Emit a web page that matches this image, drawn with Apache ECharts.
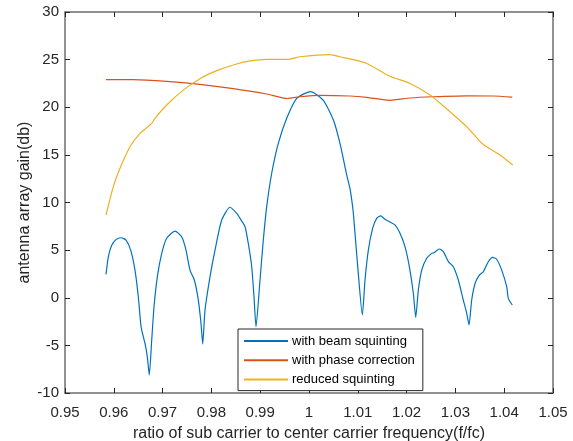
<!DOCTYPE html>
<html>
<head>
<meta charset="utf-8">
<script src="https://cdn.jsdelivr.net/npm/echarts@6/dist/echarts.min.js"></script>
<style>html,body{margin:0;padding:0;background:#fff;}#c{width:573px;height:441px;}</style>
</head>
<body>
<div id="c"></div>
<script>
// Data: [f/fc, gain dB]
var beamSquintX = [0.9584,0.95888,0.95957,0.96045,0.96148,0.9625,0.96346,0.96434,0.96502,0.96551,0.96572,0.96639,0.96687,0.96727,
  0.96777,0.96824,0.96892,0.96982,0.97084,0.97254,0.97391,0.9748,0.97561,0.9765,0.97732,0.97787,0.97822,
  0.97869,0.97971,0.98074,0.98211,0.98381,0.98518,0.98586,0.98689,0.98756,0.98826,0.98873,0.98914,
  0.98996,0.99064,0.99133,0.99236,0.99371,0.99543,0.99748,1.0003,1.0029,1.0050,1.00635,1.00773,1.00838,1.00875,1.00908,1.00943,1.0101,1.01093,
  1.01148,1.01216,1.01305,1.01387,1.0147,1.01557,1.01674,1.01762,1.01865,1.01967,1.02056,1.02138,1.02187,
  1.02241,1.0231,1.02412,1.02515,1.02562,1.02671,1.02753,1.02855,1.02957,1.0306,1.03162,1.03232,1.03279,
  1.03334,1.03402,1.0349,1.03572,1.03674,1.03764,1.03846,1.03949,1.04051,1.04084,1.04166];
var beamSquintY = [2.45,4.3,5.5,6.1,6.3,6.06,5.0,2.9,0.1,-2.7,-3.4,-4.8,-6.2,-8.1,
  -4.45,-0.95,2.2,4.65,6.24,7.0,6.4,5.0,2.9,1.86,-0.24,-2.7,-4.85,
  -1.3,2.2,5.0,8.16,9.5,8.86,8.34,7.46,5.7,3.26,0.1,-3.05,
  1.86,6.06,9.56,13.07,16.2,18.84,20.94,21.65,20.76,18.66,16.2,12.9,11.5,10.3,8.9,6.76,2.56,-1.8,
  1.86,5.0,7.3,8.34,8.6,8.24,7.92,7.64,6.77,5.36,3.26,0.47,-2.05,
  0.81,2.9,4.14,4.66,4.73,5.12,4.84,3.8,3.26,1.86,-0.24,-1.63,-2.86,
  -0.24,1.5,2.38,2.73,3.78,4.24,4.04,2.9,1.16,-0.06,-0.76];

var phaseCorrX = [0.9584,0.964,0.97084,0.97766,0.98449,0.99133,0.99556,0.99816,1.00225,1.0084,1.01182,1.0166,1.0207,1.02548,1.03232,1.03777,1.04166];
var phaseCorrY = [22.9,22.9,22.72,22.4,21.95,21.39,20.92,21.1,21.25,21.18,21.04,20.73,20.97,21.1,21.2,21.18,21.07];

var reducedX = [0.9584,0.9599,0.96127,0.96332,0.96537,0.96777,0.96844,0.97084,0.97424,0.97766,0.98109,0.98449,0.98791,0.99133,0.99576,0.99816,1.0043,1.00635,1.01182,1.01645,1.0207,1.0248,1.02889,1.03232,1.03559,1.03914,1.04174];
var reducedY = [8.67,11.66,13.6,15.86,17.26,18.3,18.84,20.24,21.8,23.0,23.84,24.44,24.86,25.03,25.03,25.3,25.52,25.3,24.6,23.28,22.5,21.28,19.53,17.96,16.14,14.98,13.93];

var seriesNames = ['with beam squinting','with phase correction','reduced squinting'];
var xTicks = {min:0.95, max:1.05, step:0.01};
var yTicks = {min:-10, max:30, step:5};

function pairs(xs, ys){ var o=[]; for (var i=0;i<xs.length;i++) o.push([xs[i], ys[i]]); return o; }

var FONT = '"Liberation Sans", Arial, sans-serif';
var AX = '#262626';
var BOX = '#6e6e6e';

var chart = echarts.init(document.getElementById('c'), null, {renderer:'canvas'});
var option = {
  animation:false,
  backgroundColor:'#ffffff',
  grid:{left:65, right:20, top:12, bottom:48, containLabel:false, outerBoundsMode:'none'},
  xAxis:[{
    type:'value', min:xTicks.min, max:xTicks.max, interval:xTicks.step, position:'bottom',
    name:'ratio of sub carrier to center carrier frequency(f/fc)', nameLocation:'middle', nameGap:33,
    nameMoveOverlap:false,
    nameTextStyle:{fontFamily:FONT, fontSize:16, color:AX},
    axisLine:{show:true, onZero:false, lineStyle:{color:BOX, width:1.5}},
    axisTick:{show:true, inside:true, length:5, lineStyle:{color:AX}},
    axisLabel:{fontFamily:FONT, fontSize:15, color:AX, margin:12,
      formatter:function(v){ return (Math.round(v*100)/100).toString(); }},
    splitLine:{show:false}
  },{
    type:'value', min:xTicks.min, max:xTicks.max, interval:xTicks.step, position:'top',
    axisLine:{show:true, onZero:false, lineStyle:{color:BOX, width:1.5}},
    axisTick:{show:true, inside:true, length:5, lineStyle:{color:AX}},
    axisLabel:{show:false}, splitLine:{show:false}
  }],
  yAxis:[{
    type:'value', min:yTicks.min, max:yTicks.max, interval:yTicks.step, position:'left',
    name:'antenna array gain(db)', nameLocation:'middle', nameGap:32,
    nameMoveOverlap:false,
    nameTextStyle:{fontFamily:FONT, fontSize:16, color:AX},
    axisLine:{show:true, onZero:false, lineStyle:{color:BOX, width:1.5}},
    axisTick:{show:true, inside:true, length:5, lineStyle:{color:AX}},
    axisLabel:{fontFamily:FONT, fontSize:15, color:AX, margin:6},
    splitLine:{show:false}
  },{
    type:'value', min:yTicks.min, max:yTicks.max, interval:yTicks.step, position:'right',
    axisLine:{show:true, onZero:false, lineStyle:{color:BOX, width:1.5}},
    axisTick:{show:true, inside:true, length:5, lineStyle:{color:AX}},
    axisLabel:{show:false}, splitLine:{show:false}
  }],
  legend:{
    orient:'vertical', left:238, top:329, width:187,
    padding:[5,8,4,6], itemGap:5.3, itemWidth:44, itemHeight:2, icon:'rect',
    backgroundColor:'#ffffff', borderColor:'#262626', borderWidth:1, borderRadius:0,
    textStyle:{fontFamily:FONT, fontSize:13, color:'#000', padding:[0,0,0,-1], lineHeight:14},
    data:seriesNames
  },
  series:[
    {name:seriesNames[0], type:'line', data:pairs(beamSquintX, beamSquintY), showSymbol:false, symbol:'none',
     smooth:0.2, lineStyle:{color:'#0072BD', width:1.2}, itemStyle:{color:'#0072BD'}},
    {name:seriesNames[1], type:'line', data:pairs(phaseCorrX, phaseCorrY), showSymbol:false, symbol:'none',
     smooth:0.2, lineStyle:{color:'#D95319', width:1.2}, itemStyle:{color:'#D95319'}},
    {name:seriesNames[2], type:'line', data:pairs(reducedX, reducedY), showSymbol:false, symbol:'none',
     smooth:0.2, lineStyle:{color:'#EDB120', width:1.2}, itemStyle:{color:'#EDB120'}}
  ]
};
chart.setOption(option);
</script>
</body>
</html>
